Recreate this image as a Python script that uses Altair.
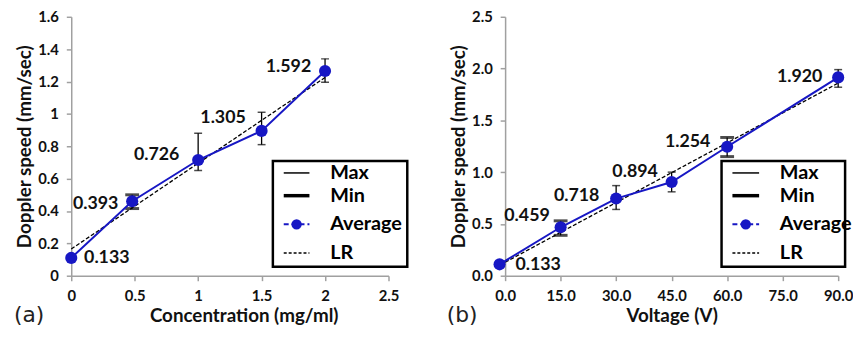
import altair as alt
import pandas as pd

# ---------------- data (a) ----------------
conc = [0, 0.48, 1, 1.5, 2]
avg_a = [0.11, 0.46, 0.715, 0.895, 1.265]
max_a = [None, 0.50, 0.88, 1.01, 1.34]
min_a = [None, 0.415, 0.65, 0.81, 1.195]
lab_a = ["0.133", "0.393", "0.726", "1.305", "1.592"]
lr_a_x = [0, 2]
lr_a_y = [0.165, 1.225]
xticks_a = [0, 0.5, 1, 1.5, 2, 2.5]
yticks_a = [0, 0.2, 0.4, 0.6, 0.8, 1.0, 1.2, 1.4, 1.6]

# ---------------- data (b) ----------------
volt = [-1.5, 15, 30, 45, 60, 90]
avg_b = [0.11, 0.468, 0.745, 0.905, 1.245, 1.915]
max_b = [None, 0.53, 0.87, 1.0, 1.335, 1.99]
min_b = [None, 0.39, 0.64, 0.81, 1.15, 1.82]
lab_b = ["0.133", "0.459", "0.718", "0.894", "1.254", "1.920"]
lr_b_x = [0, 90]
lr_b_y = [0.13, 1.86]
xticks_b = [0, 15, 30, 45, 60, 75, 90]
yticks_b = [0, 0.5, 1.0, 1.5, 2.0, 2.5]

legend_items = ["Max", "Min", "Average", "LR"]

FONT = "Lato"
BLUE = "#1717C4"
H = 262


def panel(xs, avg, mx, mn, labels, lrx, lry, xdom, xticks, xfmt, ydom, yticks, yfmt,
          xtitle, tag, W, offsets, wide, leg, title_shift, tag_x):
    df = pd.DataFrame({"x": xs, "avg": avg, "max": mx, "min": mn, "lab": labels})
    err = df.dropna()
    xscale = alt.Scale(domain=xdom, nice=False, zero=False)
    xaxis = alt.Axis(values=xticks, format=xfmt, title=xtitle, titleX=W / 2 + title_shift)
    yscale = alt.Scale(domain=ydom, nice=False)
    yaxis = alt.Axis(values=yticks, format=yfmt, title="Doppler speed (mm/sec)")

    def X(f):
        return alt.X(f, scale=xscale, axis=xaxis)

    def Y(f):
        return alt.Y(f, scale=yscale, axis=yaxis)

    lr = alt.Chart(pd.DataFrame({"x": lrx, "avg": lry})).mark_line(
        color="black", strokeDash=[4, 2], strokeWidth=1.3).encode(x=X("x:Q"), y=Y("avg:Q"))

    bars = alt.Chart(err).mark_rule(color="black", strokeWidth=1.3).encode(
        x=X("x:Q"), y=Y("min:Q"), y2="max:Q")
    caps = []
    for i, r in err.iterrows():
        w = wide[i]
        one = pd.DataFrame({"x": [r["x"], r["x"]], "v": [r["min"], r["max"]]})
        caps.append(alt.Chart(one).mark_tick(
            orient="horizontal", color="black",
            size=14 if w else 8, thickness=3 if w else 1.5).encode(x=X("x:Q"), y=Y("v:Q")))

    line = alt.Chart(df).mark_line(color=BLUE, strokeWidth=2).encode(x=X("x:Q"), y=Y("avg:Q"))
    pts = alt.Chart(df).mark_circle(color=BLUE, size=150, opacity=1).encode(
        x=X("x:Q"), y=Y("avg:Q"))

    texts = []
    for i, r in df.iterrows():
        dx, dy, al = offsets[i]
        texts.append(alt.Chart(df.iloc[[i]]).mark_text(
            font=FONT, fontWeight="bold", fontSize=18, color="#111",
            align=al, baseline="middle", dx=dx, dy=dy).encode(
            x=X("x:Q"), y=Y("avg:Q"), text="lab:N"))

    one = pd.DataFrame({"d": [0]})
    bx0, bx1, sx0, sx1, tx = leg
    ys = [158, 181, 210, 239]
    lg = [alt.Chart(one).mark_rect(fill="white", stroke="black", strokeWidth=2.5).encode(
        x=alt.value(bx0), x2=alt.value(bx1), y=alt.value(146), y2=alt.value(253))]
    lg.append(alt.Chart(one).mark_rule(color="black", strokeWidth=1.5).encode(
        x=alt.value(sx0), x2=alt.value(sx1), y=alt.value(ys[0])))
    lg.append(alt.Chart(one).mark_rule(color="black", strokeWidth=3.5).encode(
        x=alt.value(sx0), x2=alt.value(sx1), y=alt.value(ys[1])))
    lg.append(alt.Chart(one).mark_rule(color=BLUE, strokeWidth=2, strokeDash=[5, 3]).encode(
        x=alt.value(sx0), x2=alt.value(sx1), y=alt.value(ys[2])))
    lg.append(alt.Chart(one).mark_circle(color=BLUE, size=110, opacity=1).encode(
        x=alt.value((sx0 + sx1) / 2), y=alt.value(ys[2])))
    lg.append(alt.Chart(one).mark_rule(color="black", strokeWidth=1.5, strokeDash=[3, 2]).encode(
        x=alt.value(sx0), x2=alt.value(sx1), y=alt.value(ys[3])))
    for name, yy in zip(legend_items, ys):
        lg.append(alt.Chart(one).mark_text(
            font=FONT, fontWeight="bold", fontSize=20, align="left", baseline="middle",
            text=name, color="black").encode(x=alt.value(tx), y=alt.value(yy)))
    tg = alt.Chart(one).mark_text(font="DejaVu Sans", fontSize=22, align="left",
                                  baseline="middle", text=tag, color="#222").encode(
        x=alt.value(tag_x), y=alt.value(H + 40))

    return alt.layer(lr, bars, *caps, line, pts, *texts, *lg, tg).properties(width=W, height=H)


off_a = [(13, 0, "left"), (-14, 3, "right"), (-19, -5, "right"), (-16, -13, "right"),
         (-14, -4, "right")]
off_b = [(16, 1, "left"), (-11, -11, "right"), (-17, -3, "right"), (-14, -10, "right"),
         (-17, -5, "right"), (-16, 0, "right")]
wide_a = [False, True, False, False, False]
wide_b = [False, True, False, False, True, False]

pa = panel(conc, avg_a, max_a, min_a, lab_a, lr_a_x, lr_a_y, [0, 2.5], xticks_a, "~g",
           [0, 1.6], yticks_a, "~g", "Concentration (mg/ml)", "(a)", 321, off_a, wide_a,
           (204, 340, 215, 241, 262), 14, -58)
pb = panel(volt, avg_b, max_b, min_b, lab_b, lr_b_x, lr_b_y, [0, 90], xticks_b, ".1f",
           [0, 2.5], yticks_b, ".1f", "Voltage (V)", "(b)", 337, off_b, wide_b,
           (219, 344, 230, 257, 278), 0, -59)

chart = alt.hconcat(pa, pb, spacing=38).properties(
    padding={"left": 6, "top": 0, "right": 0, "bottom": 0}
).configure_view(stroke=None).configure_axis(
    grid=False, domainColor="#a0a0a0", tickColor="#a0a0a0", domainWidth=1.5,
    tickWidth=1.5, tickSize=5, labelFont=FONT, labelFontWeight="bold", labelFontSize=15,
    labelColor="#111", labelPadding=8, labelOverlap=False, labelFlush=False,
    titleFont=FONT, titleFontWeight="bold",
    titleFontSize=19, titleColor="#111", titlePadding=3
)

chart.save("out.html", embed_options={"renderer": "svg", "actions": False})
